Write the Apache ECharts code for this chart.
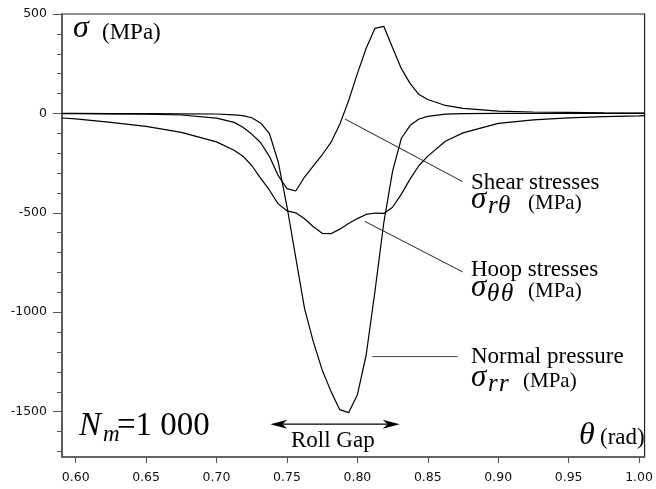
<!DOCTYPE html>
<html><head><meta charset="utf-8">
<script src="https://cdn.jsdelivr.net/npm/echarts@6/dist/echarts.min.js"></script>
<style>html,body{margin:0;padding:0;background:#fff}#c{width:656px;height:489px}</style>
</head><body><div id="c"></div>
<script>
// angle theta (rad)
const theta = [0.59, 0.6, 0.625, 0.65, 0.675, 0.7, 0.7125, 0.71875, 0.725, 0.73125, 0.7375, 0.74375, 0.75, 0.75625, 0.7625, 0.76875, 0.775, 0.78125, 0.7875, 0.79375, 0.8, 0.80625, 0.8125, 0.81875, 0.825, 0.83125, 0.8375, 0.84375, 0.85, 0.8625, 0.875, 0.9, 0.925, 0.95, 0.975, 1.0, 1.004];
// sigma_rr normal pressure (MPa)
const normalPressure = [0, 0, -1, -1, -2, -3, -7, -11, -22, -48, -100, -243, -467, -725, -982, -1149, -1290, -1398, -1490, -1505, -1415, -1215, -894, -550, -290, -125, -60, -28, -15, -4, -1, 0, 0, 0, 0, 0, 0];
// sigma_thetatheta hoop stresses (MPa)
const hoopStress = [-23, -27, -45, -65, -95, -143, -185, -215, -262, -325, -385, -455, -490, -500, -530, -570, -603, -605, -582, -554, -529, -508, -501, -503, -472, -406, -329, -262, -215, -140, -98, -50, -32, -22, -16, -12, -11];
// sigma_rtheta shear stresses (MPa)
const shearStress = [-1, -1, -2, -4, -8, -24, -45, -70, -104, -146, -216, -312, -378, -390, -320, -264, -208, -146, -55, 64, 200, 328, 428, 438, 330, 225, 150, 95, 70, 40, 25, 12, 7, 5, 3, 2, 2];

const xTickValues = [0.6, 0.65, 0.7, 0.75, 0.8, 0.85, 0.9, 0.95, 1.0];
const yTickValues = [-1500, -1000, -500, 0, 500];
const yMinorTickValues = [-1700, -1600, -1400, -1300, -1200, -1100, -900, -800, -700, -600, -400, -300, -200, -100, 100, 200, 300, 400];

// annotation anchors (data units)
const shearLeader = [[0.7912, -28], [0.8747, -343]];
const hoopLeader = [[0.8053, -543], [0.8747, -797]];
const normalLeader = [[0.8105, -1223], [0.8712, -1223]];
const rollGapArrow = [[0.7382, -1563], [0.830, -1563]];

const serif = '"Liberation Serif", "Times New Roman", serif';
const sans = '"DejaVu Sans", sans-serif';

const chart = echarts.init(document.getElementById('c'), null, {renderer: 'canvas'});
const mk = arr => theta.map((t, i) => [t, arr[i]]);
const lineSeries = (name, arr) => ({
  name, type: 'line', data: mk(arr), showSymbol: false, symbol: 'none',
  lineStyle: {color: '#000', width: 1.2}, clip: true, z: 3
});

chart.setOption({
  animation: false,
  backgroundColor: '#fff',
  grid: {left: 62, right: 8, top: 14, bottom: 32, show: true, borderColor: '#222', borderWidth: 1.2, backgroundColor: 'transparent'},
  xAxis: {
    type: 'value', min: 0.5903, max: 1.0039,
    axisLine: {show: true, onZero: false, lineStyle: {color: '#555', width: 1.5}},
    axisTick: {show: true, customValues: xTickValues, length: 6, lineStyle: {color: '#555', width: 1}},
    axisLabel: {customValues: xTickValues, formatter: v => v.toFixed(2), color: '#111', fontFamily: sans, fontSize: 12.5, margin: 14},
    splitLine: {show: false}
  },
  yAxis: [{
    type: 'value', min: -1728, max: 500, position: 'left',
    axisLine: {show: true, onZero: false, lineStyle: {color: '#555', width: 1.5}},
    axisTick: {show: true, customValues: yTickValues, length: 9, lineStyle: {color: '#555', width: 1}},
    axisLabel: {customValues: yTickValues, formatter: v => String(v), color: '#111', fontFamily: sans, fontSize: 12.5, margin: 15},
    splitLine: {show: false}
  }, {
    type: 'value', min: -1728, max: 500, position: 'left', offset: 0,
    axisLine: {show: false},
    axisTick: {show: true, customValues: yMinorTickValues, length: 5, lineStyle: {color: '#555', width: 1}},
    axisLabel: {show: false},
    splitLine: {show: false}
  }],
  series: [
    lineSeries('Shear stresses', shearStress),
    lineSeries('Hoop stresses', hoopStress),
    lineSeries('Normal pressure', normalPressure)
  ]
});

const px = p => chart.convertToPixel({xAxisIndex: 0, yAxisIndex: 0}, p);
const seg = (pair, color, w) => {
  const a = px(pair[0]), b = px(pair[1]);
  return {type: 'line', shape: {x1: a[0], y1: a[1], x2: b[0], y2: b[1]}, style: {stroke: color, lineWidth: w}, z: 10, silent: true};
};
const txt = (text, x, baseline, size, italic) => ({
  type: 'text', z: 10, silent: true,
  style: {text, x, y: baseline - 0.33 * size, font: (italic ? 'italic ' : '') + size + 'px ' + serif, fill: '#000', textAlign: 'left', textVerticalAlign: 'middle'}
});

const ra = px(rollGapArrow[0]), rb = px(rollGapArrow[1]);
const ay = ra[1];
const graphics = [
  seg(shearLeader, '#222', 1),
  seg(hoopLeader, '#222', 1),
  seg(normalLeader, '#444', 1),
  {type: 'line', shape: {x1: ra[0] + 8, y1: ay, x2: rb[0] - 8, y2: ay}, style: {stroke: '#000', lineWidth: 1.2}, z: 10},
  {type: 'polygon', shape: {points: [[ra[0], ay], [ra[0] + 17, ay - 4.5], [ra[0] + 12, ay], [ra[0] + 17, ay + 4.5]]}, style: {fill: '#000'}, z: 10},
  {type: 'polygon', shape: {points: [[rb[0], ay], [rb[0] - 17, ay - 4.5], [rb[0] - 12, ay], [rb[0] - 17, ay + 4.5]]}, style: {fill: '#000'}, z: 10},
  txt('σ', 73, 39.5, 32, true),
  txt('(MPa)', 102, 41, 23, false),
  txt('Shear stresses', 471, 191, 23, false),
  txt('σ', 471, 210, 31, true),
  txt('r', 488, 215, 25, true),
  txt('θ', 498, 215, 25, true),
  txt('(MPa)', 528, 210, 21, false),
  txt('Hoop stresses', 471, 278, 23, false),
  txt('σ', 471, 298, 31, true),
  txt('θ', 487, 303, 25, true),
  txt('θ', 501, 303, 25, true),
  txt('(MPa)', 528, 298, 21, false),
  txt('Normal pressure', 471, 365, 23, false),
  txt('σ', 471, 388, 31, true),
  txt('r', 488, 393, 25, true),
  txt('r', 499, 393, 25, true),
  txt('(MPa)', 523, 388, 21, false),
  txt('N', 79, 437, 33, true),
  txt('m', 103, 443, 23, true),
  txt('=1 000', 117, 437, 33, false),
  txt('Roll Gap', 291, 449, 23, false),
  txt('θ', 579, 446, 32, true),
  txt('(rad)', 600, 446, 23, false)
];
chart.setOption({graphic: graphics});
</script>
</body></html>
